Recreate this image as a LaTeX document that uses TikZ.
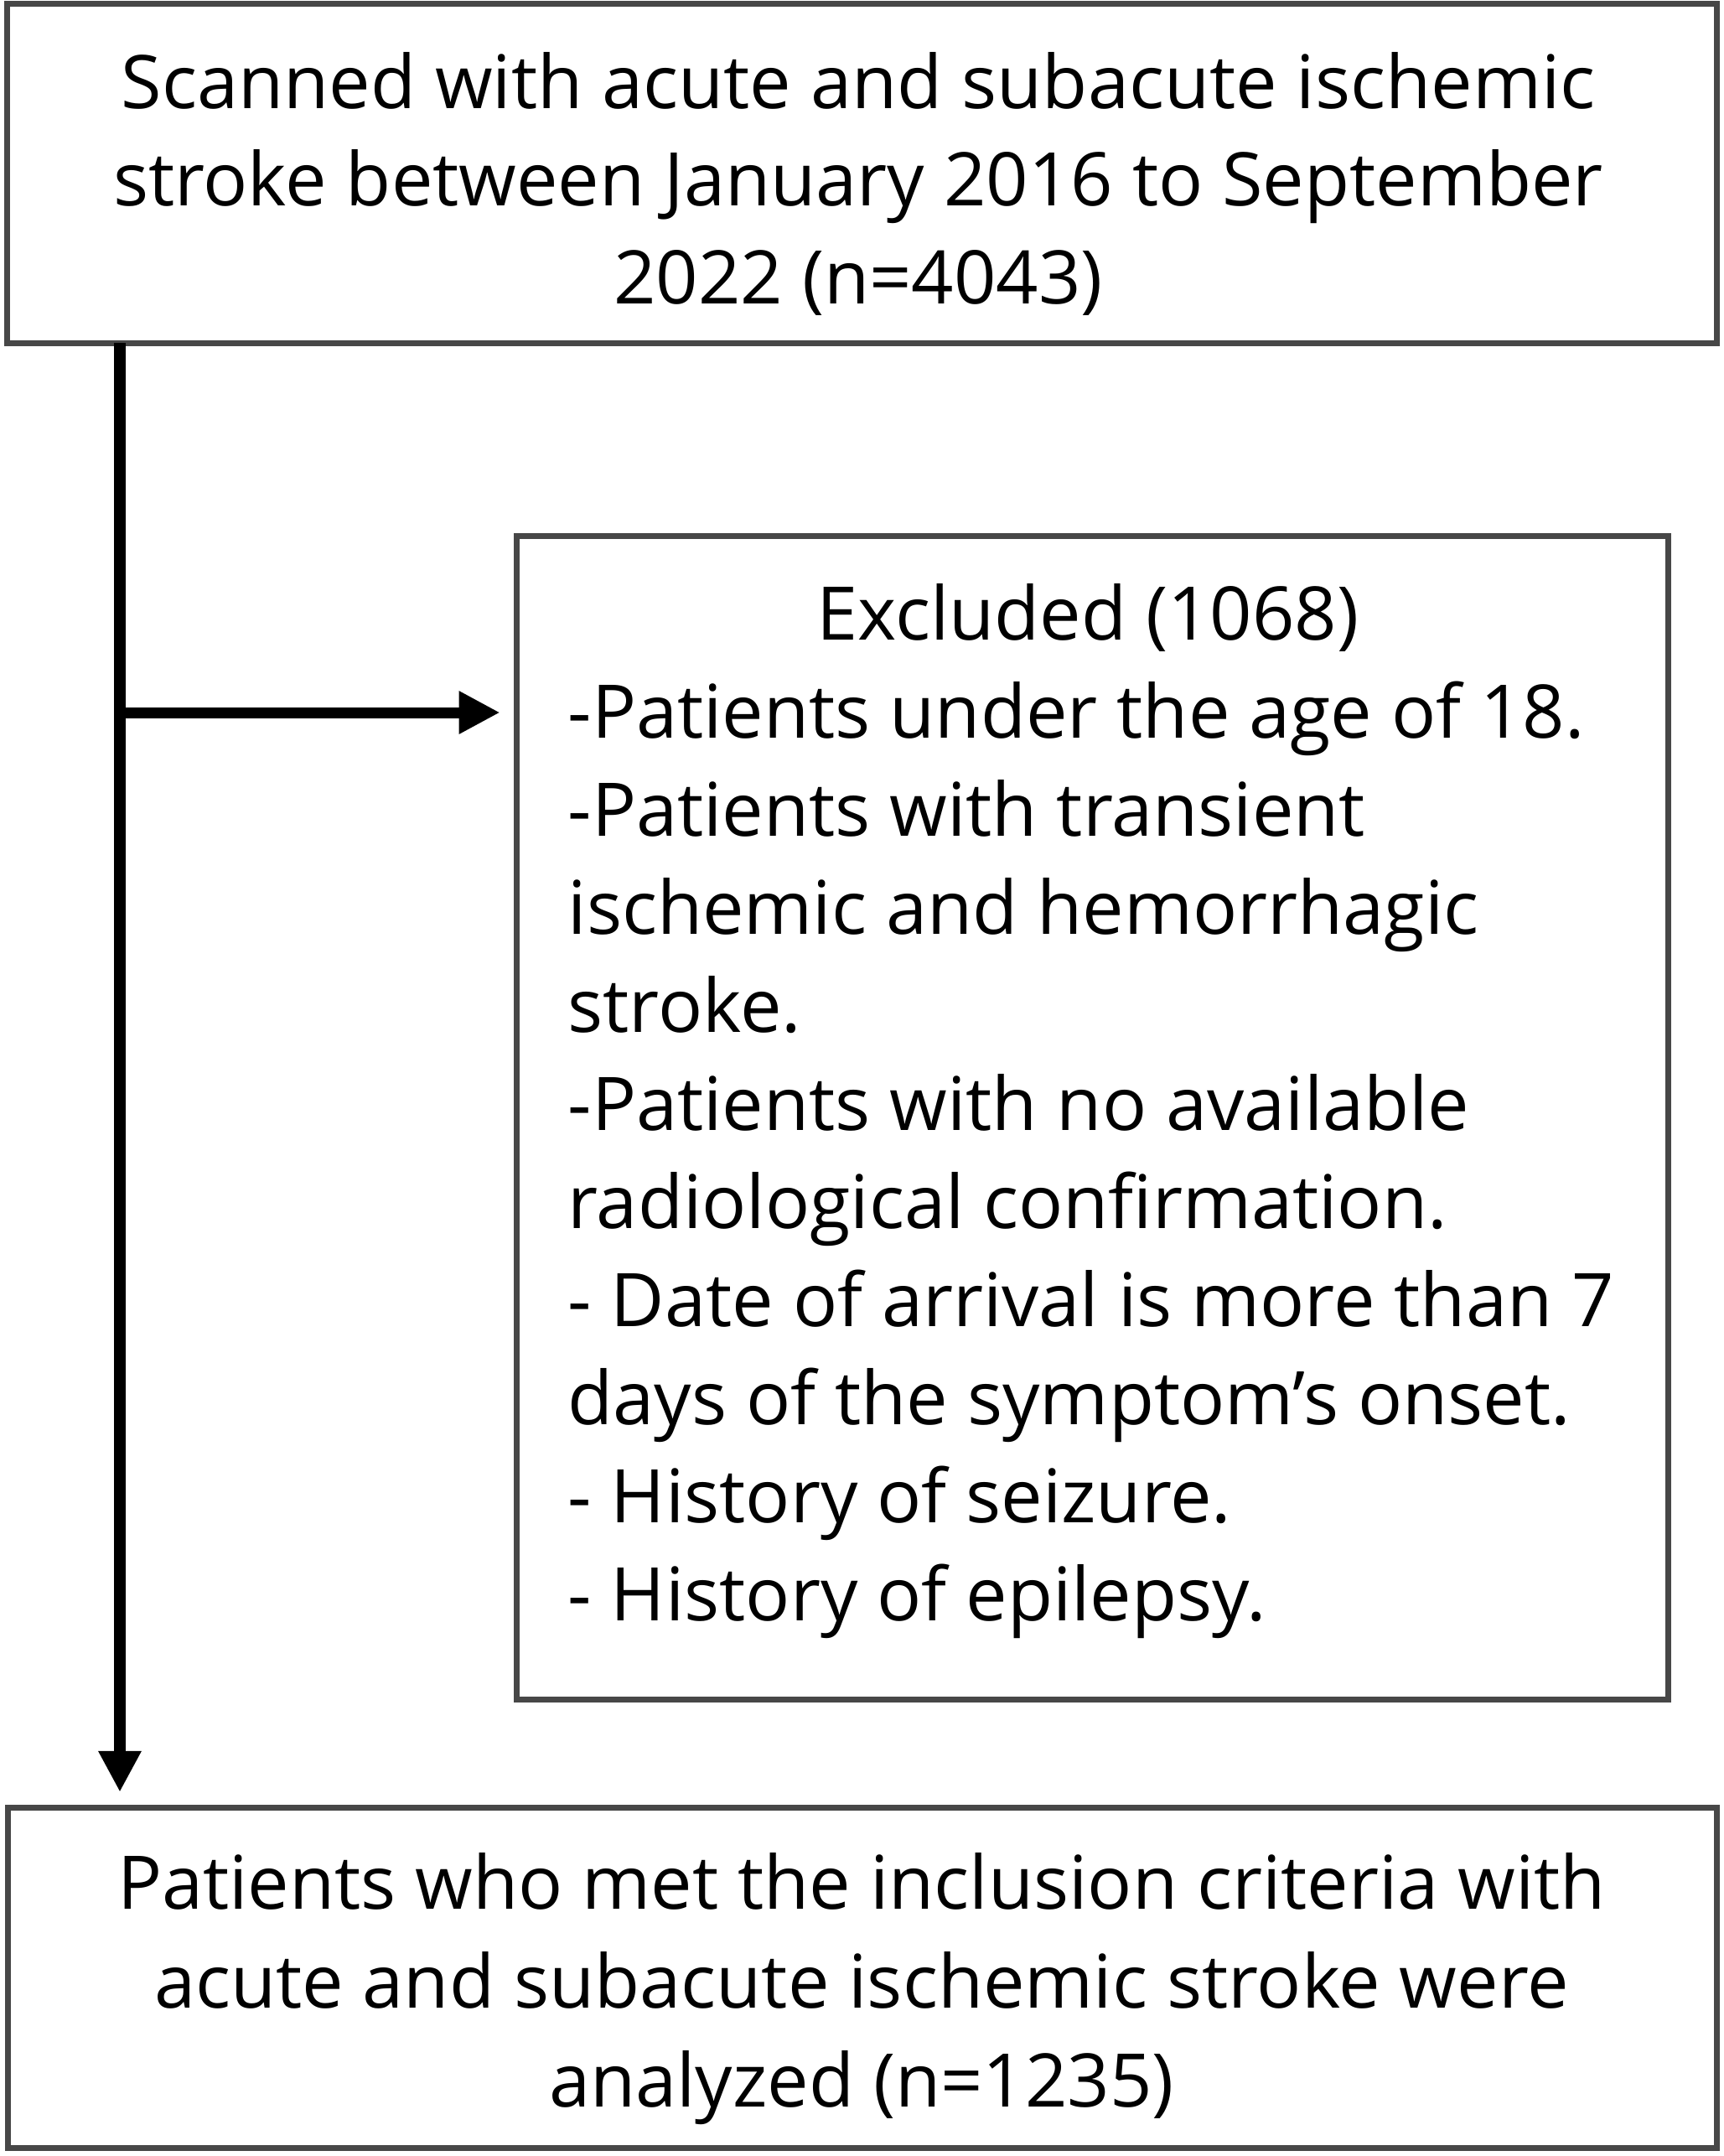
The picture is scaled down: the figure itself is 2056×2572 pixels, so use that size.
\documentclass[tikz,border=0pt]{standalone}
\usepackage{fontspec}
\setmainfont{Open Sans}
\usetikzlibrary{arrows.meta}
\begin{document}
\begin{tikzpicture}[x=0.01cm,y=-0.01cm,
  box/.style={draw=black!72, line width=0.07cm, rectangle, inner sep=0pt, outer sep=0pt},
  txt/.style={anchor=base, inner sep=0pt, text=black, font=\fontsize{25.1}{33}\selectfont},
  ltxt/.style={txt, anchor=base west},
  arr/.style={line width=0.13cm, draw=black, -{Triangle[length=0.49cm,width=0.48cm]}}]
\useasboundingbox (0,0) rectangle (2056,2572);
% boxes
\node[box, minimum width=20.39cm, minimum height=4.045cm] (top) at (1028.5,206.75) {};
\node[box, minimum width=13.73cm, minimum height=13.87cm] (excl) at (1303.5,1333.5) {};
\node[box, minimum width=20.38cm, minimum height=4.05cm] (bot) at (1029,2359.5) {};
% top text
\node[txt] (t1) at (1024,129.5) {Scanned with acute and subacute ischemic};
\node[txt] (t2) at (1024,245.5) {stroke between January 2016 to September};
\node[txt] (t3) at (1024,362) {2022 (n=4043)};
% excluded text
\node[txt] (e0) at (1298,763) {Excluded (1068)};
\node[ltxt] (e1) at (677,880) {-Patients under the age of 18.};
\node[ltxt] (e2) at (677,997) {-Patients with transient};
\node[ltxt] (e3) at (677,1114) {ischemic and hemorrhagic};
\node[ltxt] (e4) at (677,1231) {stroke.};
\node[ltxt] (e5) at (677,1348) {-Patients with no available};
\node[ltxt] (e6) at (677,1465) {radiological confirmation.};
\node[ltxt] (e7) at (677,1582) {- Date of arrival is more than 7};
\node[ltxt] (e8) at (677,1699) {days of the symptom’s onset.};
\node[ltxt] (e9) at (677,1816) {- History of seizure.};
\node[ltxt] (e10) at (677,1933) {- History of epilepsy.};
% bottom text
\node[txt] (b1) at (1028,2277) {Patients who met the inclusion criteria with};
\node[txt] (b2) at (1028,2395) {acute and subacute ischemic stroke were};
\node[txt] (b3) at (1028,2513) {analyzed (n=1235)};
% connectors
\coordinate (vx) at (143,0);
\coordinate (br) at (143,850);
\draw[arr] (top.south -| vx) -- ([yshift=0.19cm]bot.north -| vx);
\draw[arr] (br) -- ([xshift=-0.2cm]excl.west |- br);
\end{tikzpicture}
\end{document}
